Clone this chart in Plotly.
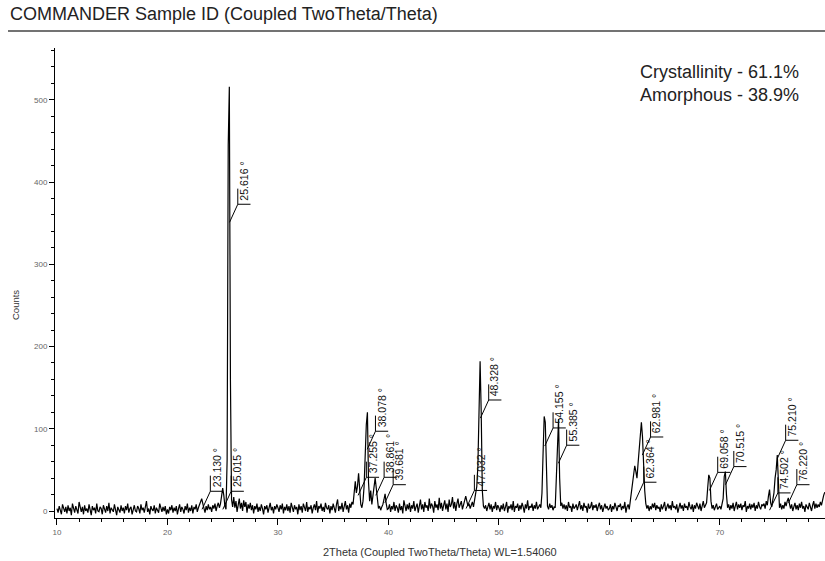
import plotly.graph_objects as go

# ---- data: XRD scan, 2theta from 10.0 deg in 0.1 deg steps ----
scan_start = 10.0
scan_step = 0.1

counts_10s = [3, -2, 6, 1, -4, 8, 2, -1, 5, -3,
              7, 0, 4, -5, 9, 2, -2, 6, 1, -3,
              11, 3, -1, 5, -4, 7, 0, 3, -2, 8,
              2, -5, 6, 1, 4, -3, 9, 0, -1, 5,
              3, -4, 7, 2, -2, 6, 0, 10, -3, 4,
              1, -1, 8, 3, -5, 5, 2, -2, 7, 0,
              4, -3, 6, 1, 9, -2, 3, 5, -4, 2,
              7, 0, -1, 6, 3, -3, 8, 1, 4, -2,
              5, 12, -1, 3, -4, 6, 2, 0, 7, -3,
              4, 1, -2, 9, 3, -1, 5, 0, 6, -4]

counts_20s = [2, -3, 5, 1, 7, -2, 4, 0, 6, -4,
              3, 8, -1, 5, 2, -3, 6, 1, 9, -2,
              4, 0, 7, -3, 5, 2, 8, -1, 4, 7,
              11, 15, 9, 3, -2, 6, 1, 8, 2, 5,
              -1, 7, 3, 9, 0, 6, 10, 4, 9, 18,
              28, 19, 6, 2, 62, 445, 516, 160, 14, 5,
              17, 4, 12, -1, 9, 15, 3, 10, 0, 13,
              5, 11, -2, 8, 3, 10, 1, 7, -3, 6,
              2, 9, -1, 5, 0, 8, 3, -4, 6, 2,
              7, -2, 4, 10, 1, 5, -3, 6, 2, 8]

counts_30s = [4, -1, 7, 2, 9, -3, 5, 1, 8, 0,
              6, -2, 10, 3, -1, 7, 2, 5, -4, 8,
              1, 6, -2, 9, 3, 0, 11, -1, 5, 2,
              7, -3, 4, 8, 1, 12, -2, 6, 3, 9,
              0, 5, -1, 10, 4, 2, 7, -3, 6, 1,
              9, 3, -2, 8, 14, 0, 6, 2, 10, -1,
              5, 12, 2, 7, -2, 9, 4, 11, 8, 20,
              36, 22, 30, 46, 25, 8, 4, 12, 30, 70,
              105, 120, 35, 12, 25, 8, 20, 35, 40, 28,
              10, 3, 6, 1, 5, 8, 14, 21, 9, 2]

counts_40s = [3, 8, -1, 6, 2, 11, 0, 7, 4, -2,
              9, 1, 6, -3, 13, 4, 0, 8, 2, 10,
              -1, 7, 3, 12, 0, 5, 9, -2, 6, 14,
              2, 8, -1, 11, 4, 7, 0, 15, 3, 9,
              6, -2, 12, 4, 8, 1, 16, 3, 10, 0,
              7, 13, 2, 9, -1, 14, 5, 8, 17, 3,
              11, 0, 9, 15, 4, 7, 12, 2, 8, 13,
              18, 12, 6, 9, 3, 7, 11, 5, 14, 22,
              30, 55, 140, 182, 120, 25, 6, 3, 7, 0,
              5, 10, 2, 8, -1, 6, 3, 11, 1, 7]

counts_50s = [4, -1, 7, 2, 9, 0, 5, 11, -2, 6,
              3, 8, 1, 12, -1, 6, 4, 9, 0, 7,
              2, 10, 5, -2, 8, 3, 13, 1, 6, 4,
              9, 0, 7, 3, 11, 2, 5, 8, 4, 22,
              70, 115, 108, 45, 6, 2, 9, 4, 7, 1,
              5, 4, 45, 98, 112, 40, 6, 10, 3, 8,
              2, 7, 0, 11, 4, 6, -1, 9, 3, 5,
              8, 1, 6, 12, 2, 7, 0, 10, 4, 6,
              -2, 9, 3, 5, 11, 1, 7, 4, 8, 0,
              6, 10, 2, 7, -1, 5, 9, 3, 6, 1]

counts_60s = [3, 8, -1, 6, 2, 10, 4, 0, 7, 5,
              9, 1, 6, 3, 11, -2, 5, 8, 2, 12,
              20, 32, 44, 55, 48, 40, 58, 75, 95, 108,
              90, 55, 25, 9, 3, 7, 0, 6, 2, 9,
              4, 10, 1, 7, 3, 5, -1, 8, 2, 6,
              11, 0, 5, 9, 3, 7, 1, 12, 4, 6,
              2, 8, -2, 6, 10, 3, 7, 0, 9, 4,
              6, 1, 11, 5, 2, 8, -1, 7, 3, 10,
              5, 2, 9, 0, 6, 12, 4, 8, 10, 28,
              44, 40, 12, 3, 7, 1, 6, 9, 2, 5]

counts_70s = [6, 2, 9, 15, 42, 48, 20, 4, 8, 1,
              7, 3, 10, 0, 6, 11, 2, 8, 4, 9,
              1, 7, 5, 12, -1, 6, 3, 9, 2, 8,
              4, 10, 0, 7, 3, 11, 5, 2, 8, 6,
              9, 3, 12, 7, 18, 26, 10, 5, 14, 22,
              40, 50, 68, 30, 4, 9, 2, 7, 3, 11,
              6, 12, 16, 9, 3, 8, 0, 5, 10, 2,
              7, 1, 9, 4, 11, 3, 6, -1, 8, 5,
              2, 10, 6, 0, 7, 12, 3, 9, 4, 8,
              5, 11, 7, 14, 19, 23]

# ---- peak labels ----
label_angles = [23.130, 25.015, 25.616, 37.255, 38.078, 38.861, 39.681, 47.032,
                48.328, 54.155, 55.385, 62.364, 62.981, 69.058, 70.515, 74.502,
                75.210, 76.220]
label_levels = [24, 24, 373, 41, 97, 41, 32, 25, 135, 101, 80, 35, 90, 47, 54, 22,
                86, 32]

x_ticks = [10, 20, 30, 40, 50, 60, 70]
y_ticks = [0, 100, 200, 300, 400, 500]

title_text = "COMMANDER Sample ID (Coupled TwoTheta/Theta)"
x_title = "2Theta (Coupled TwoTheta/Theta) WL=1.54060"
y_title = "Counts"
info_lines = ["Crystallinity - 61.1%", "Amorphous - 38.9%"]

# ---- build ----
counts = (counts_10s + counts_20s + counts_30s + counts_40s + counts_50s
          + counts_60s + counts_70s)
two_theta = [round(scan_start + i * scan_step, 1) for i in range(len(counts))]

FONT = "Liberation Sans, Arial, sans-serif"

fig = go.Figure()
fig.add_trace(go.Scatter(x=two_theta, y=counts, mode="lines",
                         line=dict(color="black", width=1.2), hoverinfo="skip"))

# leader lines for the peak labels
lx, ly = [], []
for a, lv in zip(label_angles, label_levels):
    corner = a + 0.75
    lx += [a, corner, a + 1.9, None, corner, corner, None]
    ly += [max(lv - 22, 1), lv, lv, None, lv, lv + 19, None]
fig.add_trace(go.Scatter(x=lx, y=ly, mode="lines",
                         line=dict(color="black", width=1), hoverinfo="skip"))

annotations = []
for a, lv in zip(label_angles, label_levels):
    annotations.append(dict(x=a + 1.3, y=lv, xref="x", yref="y",
                            text=f"{a:.3f} °", showarrow=False, textangle=-90,
                            xanchor="center", yanchor="bottom", yshift=2,
                            font=dict(family=FONT, size=10.5, color="#111")))

W, H = 825, 561
ml, mr, mt, mb = 55, 0, 48, 43
pw, ph = W - ml - mr, H - mt - mb


def px_x(px):
    return (px - ml) / pw


def px_y(py):
    return 1 - (py - mt) / ph


annotations.append(dict(x=px_x(8), y=px_y(14), xref="paper", yref="paper",
                        text=title_text, showarrow=False, xanchor="left",
                        yanchor="middle",
                        font=dict(family=FONT, size=18, color="#222")))
annotations.append(dict(x=px_x(801), y=px_y(72), xref="paper", yref="paper",
                        text=info_lines[0], showarrow=False, xanchor="right",
                        yanchor="middle",
                        font=dict(family=FONT, size=18, color="#222")))
annotations.append(dict(x=px_x(801), y=px_y(95), xref="paper", yref="paper",
                        text=info_lines[1], showarrow=False, xanchor="right",
                        yanchor="middle",
                        font=dict(family=FONT, size=18, color="#222")))
annotations.append(dict(x=px_x(15), y=px_y(305), xref="paper", yref="paper",
                        text=y_title, showarrow=False, textangle=-90,
                        xanchor="center", yanchor="middle",
                        font=dict(family=FONT, size=9.5, color="#333")))
annotations.append(dict(x=0.5, y=px_y(552), xref="paper", yref="paper",
                        text=x_title, showarrow=False, xanchor="center",
                        yanchor="middle",
                        font=dict(family=FONT, size=11, color="#333")))

fig.update_layout(
    width=W, height=H,
    margin=dict(l=ml, r=mr, t=mt, b=mb),
    paper_bgcolor="white", plot_bgcolor="white",
    showlegend=False,
    annotations=annotations,
    shapes=[dict(type="line", xref="paper", yref="paper",
                 x0=px_x(8), x1=1.0, y0=px_y(31), y1=px_y(31),
                 line=dict(color="#444", width=1.5))],
    xaxis=dict(range=[9.82, 79.52], showline=True, linecolor="black",
               linewidth=1, ticks="outside", ticklen=6, tickcolor="black",
               tickvals=x_ticks, showgrid=False, zeroline=False,
               minor=dict(dtick=2, tick0=10, ticks="outside", ticklen=3,
                          tickcolor="black", showgrid=False),
               tickfont=dict(family=FONT, size=8, color="#666")),
    yaxis=dict(range=[-8.5, 563], showline=True, linecolor="black",
               linewidth=1, ticks="outside", ticklen=5, tickcolor="black",
               tickvals=y_ticks, showgrid=False, zeroline=False,
               minor=dict(dtick=20, tick0=0, ticks="outside", ticklen=3,
                          tickcolor="black", showgrid=False),
               tickfont=dict(family=FONT, size=8, color="#666")),
)

fig.write_html("out.html")
